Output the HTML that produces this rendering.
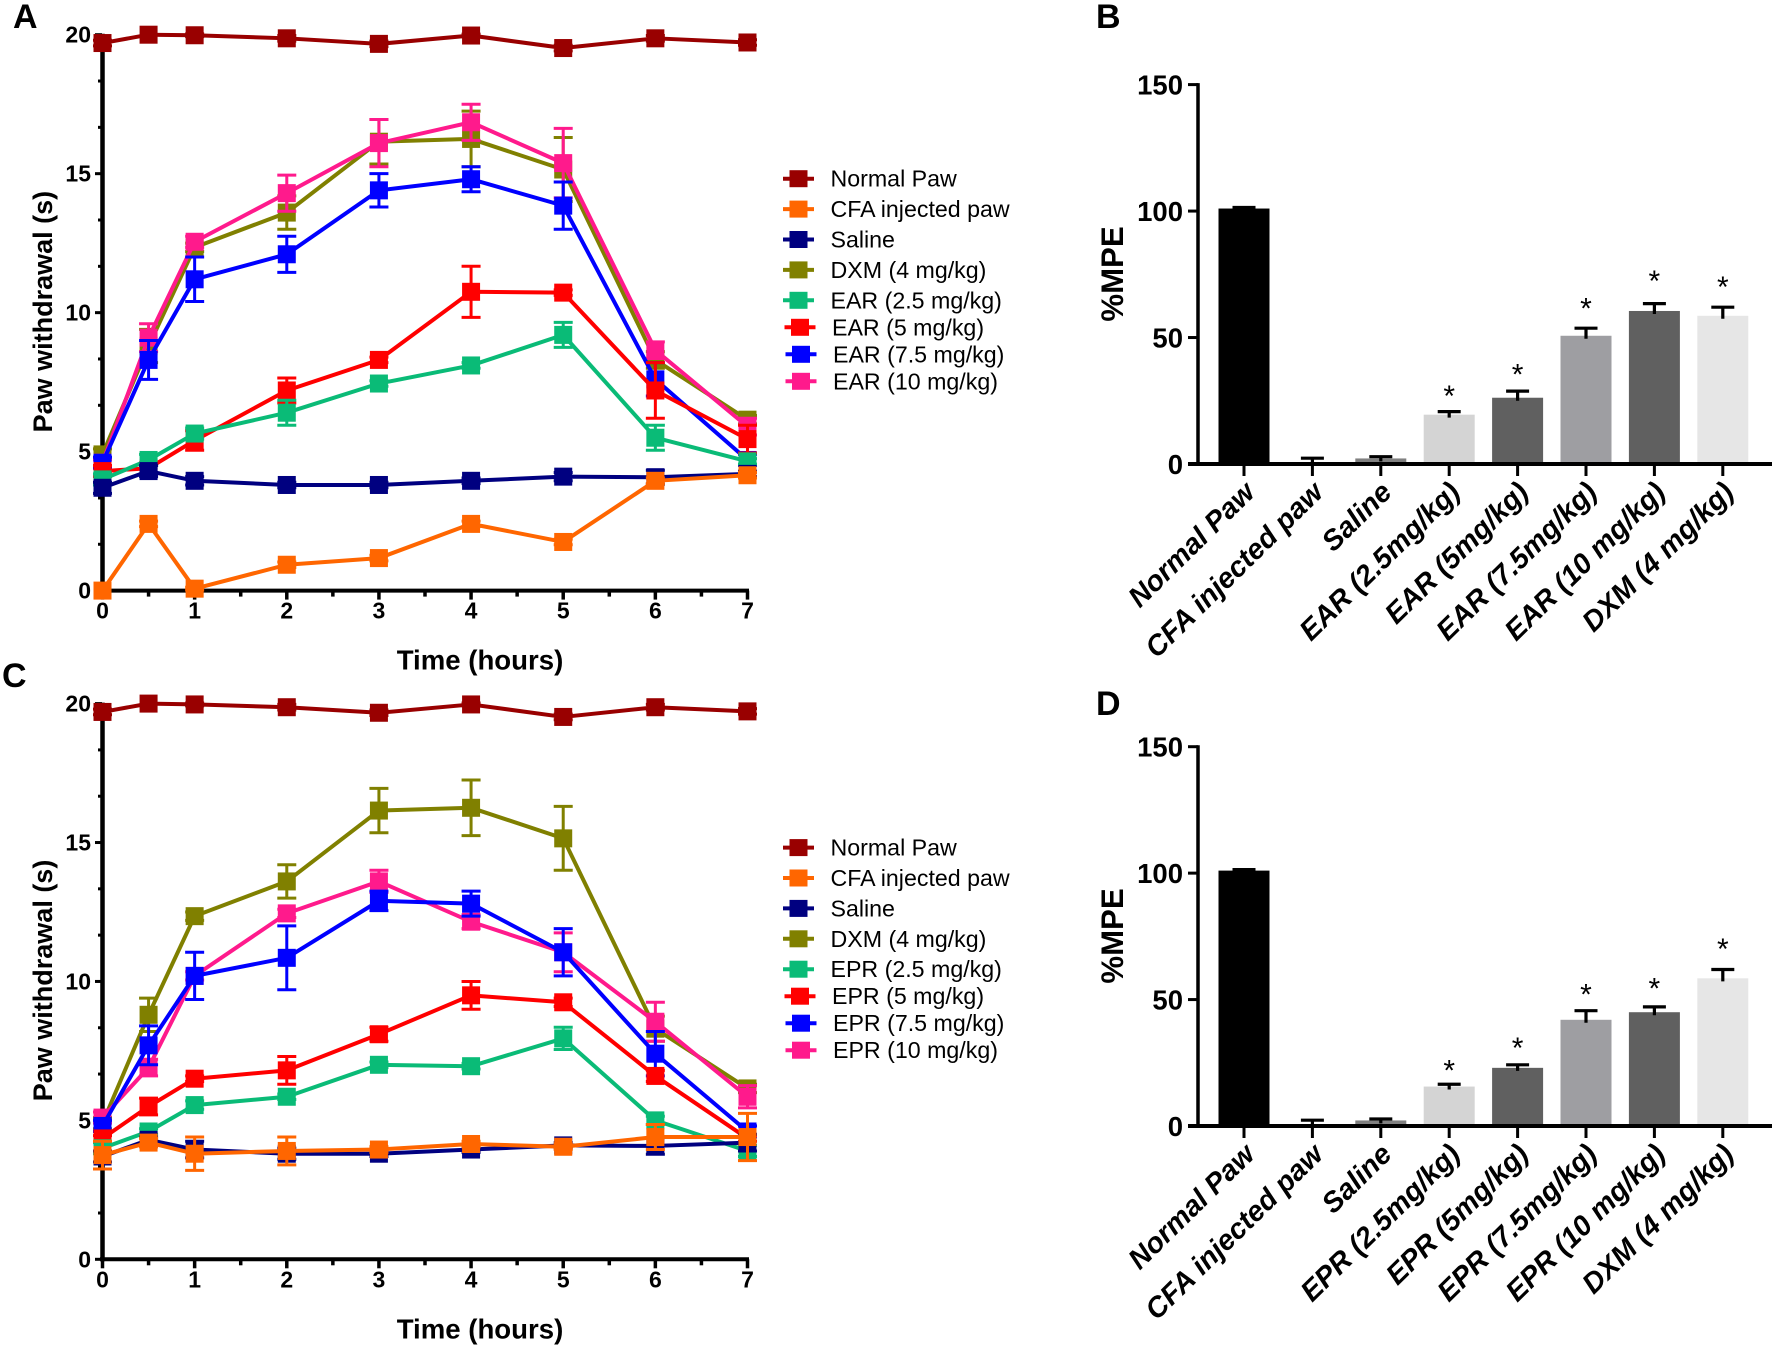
<!DOCTYPE html>
<html lang="en">
<head>
<meta charset="utf-8">
<title>Paw withdrawal and %MPE charts</title>
<style>
html,body{margin:0;padding:0;background:#fff;}
svg{display:block;font-family:"Liberation Sans",Arial,sans-serif;}
text{fill:#000;}
</style>
</head>
<body>
<svg id="figure" xmlns="http://www.w3.org/2000/svg" width="1772" height="1346" viewBox="0 0 1772 1346">
<rect width="1772" height="1346" fill="#fff"/>
</svg>
<script>
// ---- shared data ----
const timePoints = [0, 0.5, 1, 2, 3, 4, 5, 6, 7];
const xTickLabels = [0, 1, 2, 3, 4, 5, 6, 7];
const xMinorTicks = [0.5, 1.5, 2.5, 3.5, 4.5, 5.5, 6.5];
const yTickLabels = [0, 5, 10, 15, 20];
const pctTickLabels = [0, 50, 100, 150];

// ---- panel A: paw withdrawal, EAR ----
const aNormal = [19.7, 20, 19.98, 19.87, 19.67, 19.97, 19.52, 19.87, 19.72];
const aNormalErr = [0.1, 0, 0.05, 0.1, 0.1, 0.05, 0.1, 0.1, 0.1];
const aCfa = [0, 2.4, 0.07, 0.93, 1.17, 2.4, 1.75, 3.95, 4.15];
const aCfaErr = [0, 0.1, 0.05, 0.1, 0.1, 0.1, 0.1, 0.1, 0.1];
const aSaline = [3.7, 4.3, 3.95, 3.8, 3.8, 3.95, 4.1, 4.08, 4.2];
const aSalineErr = [0.2, 0.2, 0.15, 0.1, 0.1, 0.1, 0.15, 0.25, 0.1];
const aDxm = [4.9, 8.8, 12.35, 13.6, 16.15, 16.25, 15.15, 8.3, 6.15];
const aDxmErr = [0.2, 0.6, 0.15, 0.6, 0.8, 1.0, 1.15, 0.3, 0.15];
const aEar25 = [4.0, 4.7, 5.65, 6.4, 7.45, 8.1, 9.2, 5.5, 4.65];
const aEar25Err = [0.2, 0.2, 0.2, 0.45, 0.1, 0.1, 0.45, 0.45, 0.1];
const aEar5 = [4.3, 4.4, 5.4, 7.2, 8.3, 10.75, 10.72, 7.2, 5.45];
const aEar5Err = [0.2, 0.2, 0.35, 0.45, 0.1, 0.92, 0.1, 1.0, 0.5];
const aEar75 = [4.6, 8.3, 11.2, 12.1, 14.4, 14.8, 13.85, 7.6, 4.7];
const aEar75Err = [0.2, 0.7, 0.8, 0.65, 0.6, 0.45, 0.85, 0.6, 0.2];
const aEar10 = [4.6, 9.1, 12.55, 14.3, 16.1, 16.85, 15.38, 8.65, 5.9];
const aEar10Err = [0.1, 0.5, 0.2, 0.65, 0.85, 0.65, 1.25, 0.3, 0.3];
const aLabels = ["Normal Paw", "CFA injected paw", "Saline", "DXM (4 mg/kg)", "EAR (2.5 mg/kg)", "EAR (5 mg/kg)", "EAR (7.5 mg/kg)", "EAR (10 mg/kg)"];

// ---- panel C: paw withdrawal, EPR ----
const cNormal = [19.7, 20, 19.97, 19.87, 19.67, 19.97, 19.52, 19.87, 19.72];
const cNormalErr = [0.1, 0, 0.05, 0.1, 0.1, 0.05, 0.1, 0.1, 0.1];
const cCfa = [3.75, 4.2, 3.8, 3.9, 3.95, 4.15, 4.05, 4.4, 4.4];
const cCfaErr = [0.5, 0.15, 0.6, 0.5, 0.1, 0.1, 0.1, 0.45, 0.85];
const cSaline = [3.7, 4.3, 3.95, 3.8, 3.8, 3.95, 4.1, 4.08, 4.2];
const cSalineErr = [0.2, 0.1, 0.3, 0.2, 0.1, 0.1, 0.1, 0.3, 0.3];
const cDxm = [4.9, 8.8, 12.35, 13.6, 16.15, 16.25, 15.15, 8.3, 6.15];
const cDxmErr = [0.2, 0.6, 0.15, 0.6, 0.8, 1.0, 1.15, 0.45, 0.15];
const cEpr25 = [4.0, 4.6, 5.55, 5.85, 7.0, 6.95, 7.95, 5.0, 3.9];
const cEpr25Err = [0.2, 0.1, 0.15, 0.1, 0.1, 0.1, 0.4, 0.15, 0.2];
const cEpr5 = [4.35, 5.5, 6.5, 6.8, 8.1, 9.5, 9.25, 6.6, 4.35];
const cEpr5Err = [0.1, 0.3, 0.1, 0.5, 0.25, 0.5, 0.15, 0.2, 0.1];
const cEpr75 = [4.8, 7.7, 10.2, 10.85, 12.9, 12.8, 11.05, 7.4, 4.6];
const cEpr75Err = [0.2, 0.7, 0.85, 1.15, 0.35, 0.45, 0.85, 0.8, 0.2];
const cEpr10 = [5.1, 6.9, 10.2, 12.45, 13.6, 12.15, 11.05, 8.55, 5.85];
const cEpr10Err = [0.2, 0.3, 0.15, 0.15, 0.4, 0.25, 0.7, 0.7, 0.4];
const cLabels = ["Normal Paw", "CFA injected paw", "Saline", "DXM (4 mg/kg)", "EPR (2.5 mg/kg)", "EPR (5 mg/kg)", "EPR (7.5 mg/kg)", "EPR (10 mg/kg)"];

// ---- panels B and D: %MPE bars ----
const bCategories = ["Normal Paw", "CFA injected paw", "Saline", "EAR (2.5mg/kg)", "EAR (5mg/kg)", "EAR (7.5mg/kg)", "EAR (10 mg/kg)", "DXM (4 mg/kg)"];
const bValues = [101, 0.3, 2.2, 19.5, 26.2, 50.7, 60.5, 58.6];
const bErrors = [0.4, 2, 0.7, 1.2, 2.6, 3, 2.9, 3.4];
const bStarGaps = [0, 0, 0, 7.7, 8.2, 9.3, 10.6, 9.5];
const dCategories = ["Normal Paw", "CFA injected paw", "Saline", "EPR (2.5mg/kg)", "EPR (5mg/kg)", "EPR (7.5mg/kg)", "EPR (10 mg/kg)", "DXM (4 mg/kg)"];
const dValues = [101, 0.3, 2.2, 15.6, 23, 42, 45, 58.4];
const dErrors = [0.4, 2, 0.6, 0.9, 1.2, 3.6, 2.1, 3.5];
const dStarGaps = [0, 0, 0, 7.1, 8.3, 8, 8.9, 9.7];
const significant = [false, false, false, true, true, true, true, true];

// ---- styling ----
const seriesColors = ["#990000", "#ff6600", "#000080", "#808000", "#0abb77", "#ff0000", "#0000ff", "#ff1a8c"];
const barColors = ["#000000", "#000000", "#808080", "#d4d4d4", "#606060", "#9e9ea2", "#606060", "#e6e6e6"];
const drawOrder = [3, 7, 6, 5, 4, 2, 1, 0];

const NS = "http://www.w3.org/2000/svg";
const fig = document.getElementById("figure");
function make(tag, attrs, parent) {
  const el = document.createElementNS(NS, tag);
  for (const k in attrs) el.setAttribute(k, attrs[k]);
  (parent || fig).appendChild(el);
  return el;
}
function line(x1, y1, x2, y2, stroke, w, parent) {
  return make("line", { x1: x1, y1: y1, x2: x2, y2: y2, stroke: stroke, "stroke-width": w }, parent);
}
function label(txt, x, y, size, weight, anchor, parent) {
  const t = make("text", { x: x, y: y, "font-size": size, "font-weight": weight, "text-anchor": anchor }, parent);
  t.textContent = txt;
  return t;
}

function drawLinePanel(letter, letterX, letterY, y0, y20, series, errors, names, legendTop) {
  const xOf = function (t) { return 102.5 + t * (747.5 - 102.5) / 7; };
  const yOf = function (v) { return y0 + v * (y20 - y0) / 20; };
  const panel = make("g", {});
  
  

  const pl = label(letter, letterX, letterY, 34, "bold", "start", panel);
  
  

  const axisY = line(102.5, yOf(20) - 1, 102.5, y0 + 2, "#000", 4.5, panel);
  
  
  const axisX = line(100, y0, xOf(7) + 1.5, y0, "#000", 4, panel);
  
  

  yTickLabels.forEach(function (v) {
    const tick = line(95, yOf(v), 102, yOf(v), "#000", 3, panel);
    
    
    const tl = label(String(v), 91, yOf(v) + 8, 23, "bold", "end", panel);
    
    
  });
  for (let k = 1; k <= 12; k++) {
    if (k % 3 === 0) continue;
    const v = k * 5 / 3;
    const minor = line(98, yOf(v), 102, yOf(v), "#000", 3, panel);
    
    
  }
  xTickLabels.forEach(function (t) {
    const tick = line(xOf(t), y0, xOf(t), y0 + 9, "#000", 3.5, panel);
    
    
    const tl = label(String(t), xOf(t), y0 + 28, 23, "bold", "middle", panel);
    
    
  });
  xMinorTicks.forEach(function (t) {
    const minor = line(xOf(t), y0, xOf(t), y0 + 6, "#000", 3.5, panel);
    
    
  });

  const xt = label("Time (hours)", 480, y0 + 79, 27.6, "bold", "middle", panel);
  
  
  const yMid = (y0 + y20) / 2 + 0;
  const yt = label("Paw withdrawal (s)", 0, 0, 27, "bold", "middle", panel);
  yt.setAttribute("transform", "translate(52 " + (yMid - 1) + ") rotate(-90)");
  
  

  drawOrder.forEach(function (s) {
    const color = seriesColors[s];
    const g = make("g", {}, panel);
    
    
    series[s].forEach(function (v, i) {
      const e = errors[s][i];
      if (e <= 0) return;
      const x = xOf(timePoints[i]);
      const bar = make("path", {
        d: "M" + x + " " + yOf(v - e) + "V" + yOf(v + e) +
           "M" + (x - 9.5) + " " + yOf(v + e) + "H" + (x + 9.5) +
           "M" + (x - 9.5) + " " + yOf(v - e) + "H" + (x + 9.5),
        stroke: color, "stroke-width": 3, fill: "none"
      }, g);
      
      
    });
    const pts = series[s].map(function (v, i) { return xOf(timePoints[i]) + "," + yOf(v); }).join(" ");
    const pl2 = make("polyline", { points: pts, fill: "none", stroke: color, "stroke-width": 4, "stroke-linejoin": "round" }, g);
    
    
    series[s].forEach(function (v, i) {
      const m = make("rect", { x: xOf(timePoints[i]) - 9, y: yOf(v) - 9, width: 18, height: 18, fill: color }, g);
      
      
    });
  });

  names.forEach(function (name, i) {
    const ly = legendTop + 30.4 * Math.min(i, 4) + 27 * Math.max(i - 4, 0);
    const shift = i >= 5 ? 1.5 : 0;
    const extra = i >= 6 ? 1 : 0;
    const entry = make("g", {}, panel);
    
    
    const swatchLine = line(783 + shift + extra, ly, 814 + shift + extra, ly, seriesColors[i], 4, entry);
    
    
    const swatch = make("rect", { x: 789.5 + shift + extra, y: ly - 8.5, width: 18, height: 17, fill: seriesColors[i] }, entry);
    
    
    const t = label(name, 830.5 + shift + extra, ly + 8, 23.2, "normal", "start", entry);
    
    
  });
}

function drawBarPanel(letter, letterY, y0, y150, cats, values, errs, starGaps) {
  const yOf = function (v) { return y0 + v * (y150 - y0) / 150; };
  const xOf = function (i) { return 1244 + i * 68.4; };
  const panel = make("g", {});
  
  

  const pl = label(letter, 1096, letterY, 34, "bold", "start", panel);
  
  

  values.forEach(function (v, i) {
    const top = yOf(v);
    const bar = make("rect", { x: xOf(i) - 25.5, y: top, width: 51, height: Math.max(0, y0 - 2 - top), fill: barColors[i] }, panel);
    
    
    const capY = yOf(v + errs[i]);
    const eb = make("path", {
      d: "M" + xOf(i) + " " + (top + 3) + "V" + capY + "M" + (xOf(i) - 11.5) + " " + capY + "H" + (xOf(i) + 11.5),
      stroke: "#000", "stroke-width": 3.2, fill: "none"
    }, panel);
    
    
    if (significant[i]) {
      const star = label("*", xOf(i), yOf(v + errs[i] + starGaps[i]) + 14, 30, "normal", "middle", panel);
      
      
    }
    const tick = line(xOf(i), y0, xOf(i), y0 + 12, "#000", 3, panel);
    
    
    const tl = label(cats[i], 0, 0, 28.6, "bold", "end", panel);
    tl.setAttribute("font-style", "italic");
    tl.setAttribute("transform", "translate(" + (xOf(i) + 12.5) + " " + (y0 + 30) + ") rotate(-44.5)");
    
    
  });

  const axisY = line(1198, y150 - 1.5, 1198, y0 + 2, "#000", 3.5, panel);
  
  
  const axisX = line(1188, y0, 1772, y0, "#000", 4, panel);
  
  

  pctTickLabels.forEach(function (v) {
    const tick = line(1188, yOf(v), 1198, yOf(v), "#000", 3, panel);
    
    
    const tl = label(String(v), 1183, yOf(v) + 10, 27.5, "bold", "end", panel);
    
    
  });

  const yt = label("%MPE", 0, 0, 31.2, "bold", "middle", panel);
  yt.setAttribute("transform", "translate(1123 " + (y0 - 190) + ") rotate(-90)");
  
  
}

drawLinePanel("A", 13, 28, 590.6, 34.7,
  [aNormal, aCfa, aSaline, aDxm, aEar25, aEar5, aEar75, aEar10],
  [aNormalErr, aCfaErr, aSalineErr, aDxmErr, aEar25Err, aEar5Err, aEar75Err, aEar10Err],
  aLabels, 178.7);
drawLinePanel("C", 2, 687, 1259.3, 703.6,
  [cNormal, cCfa, cSaline, cDxm, cEpr25, cEpr5, cEpr75, cEpr10],
  [cNormalErr, cCfaErr, cSalineErr, cDxmErr, cEpr25Err, cEpr5Err, cEpr75Err, cEpr10Err],
  cLabels, 847.6);
drawBarPanel("B", 28, 464, 84.6, bCategories, bValues, bErrors, bStarGaps);
drawBarPanel("D", 715, 1126, 746.7, dCategories, dValues, dErrors, dStarGaps);
</script>
</body>
</html>
